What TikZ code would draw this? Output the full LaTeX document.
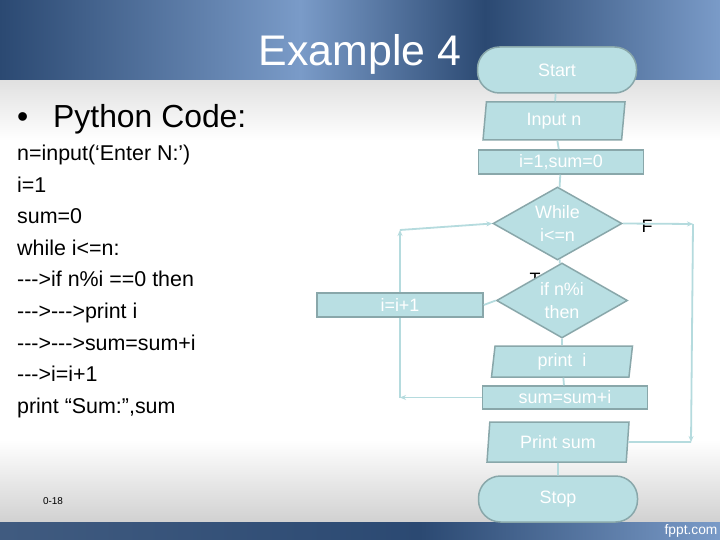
\documentclass[tikz,border=0pt]{standalone}
\usepackage{fontspec}
\setmainfont{Liberation Sans}
\newfontfamily\codefont{Liberation Sans}[Ligatures=TeXOff]
\definecolor{fcFill}{HTML}{B9DFE3}
\definecolor{fcEdge}{HTML}{89A7AA}
\definecolor{fcLine}{HTML}{B5DBDE}
\definecolor{bandDark}{HTML}{2B4972}
\definecolor{bandLight}{HTML}{7A9BC8}
\usetikzlibrary{positioning,arrows.meta,shapes.geometric}

\begin{document}
\begin{tikzpicture}[x=1bp, y=-1bp,
  fcbase/.style={draw=fcEdge, line width=1.5bp, fill=fcFill, text=white,
    font=\fontsize{18}{23}\selectfont, align=center, inner sep=0pt},
  term/.style={fcbase, rectangle, rounded corners=22bp, minimum width=159bp, minimum height=46bp},
  io/.style={fcbase, trapezium, trapezium left angle=78, trapezium right angle=102,
    trapezium stretches body=true, minimum width=142bp, minimum height=38bp},
  proc/.style={fcbase, rectangle, minimum width=165bp, minimum height=24bp},
  cond/.style={fcbase, diamond, aspect=1.77, minimum width=129bp, minimum height=73bp},
  link/.style={color=fcLine, line width=1.8bp},
  arr/.style={link, -{Stealth[length=6bp, width=5bp]}},
  tf/.style={font=\fontsize{18}{20}\selectfont, text=black},
  codeline/.style={anchor=base west, inner sep=0pt, font=\codefont\fontsize{21.5}{26}\selectfont}
]
  \useasboundingbox (0,0) rectangle (720,540);

  % Slide background
  \fill[white] (0,0) rectangle (720,540);
  \shade[top color=black!12, bottom color=white] (0,80) rectangle (720,140);
  \shade[top color=white, bottom color=black!18] (0,440) rectangle (720,522);
  \shade[left color=bandDark, right color=bandLight] (0,0) rectangle (300,80);
  \shade[left color=bandLight, right color=bandDark] (300,0) rectangle (485,80);
  \shade[left color=bandDark, right color=bandLight] (485,0) rectangle (720,80);
  \shade[left color=bandDark!90!white, right color=bandDark] (0,522) rectangle (420,540);
  \shade[left color=bandDark, right color=bandLight] (420,522) rectangle (720,540);

  \node[font=\fontsize{43}{50}\selectfont, text=white, anchor=base] (title) at (360,66) {Example 4};
  \node[anchor=base west, inner sep=0pt, font=\fontsize{32}{38}\selectfont] (heading) at (17,128)
    {\makebox[36bp][l]{•}Python Code:};

  \foreach \txt [count=\k] in {n=input(‘Enter N:’), i=1, sum=0, while i<=n:, {--->if n\%i ==0 then},
      --->--->print i, --->--->sum=sum+i, --->i=i+1, {print “Sum:”,sum}}
    \node[codeline] (code\k) at (17,{161+31.5*(\k-1)}) {\txt};

  % Flowchart
  \node[term] (start) at (557,70) {Start};
  \node[io] (input) at (554,121) {Input n};
  \node[proc] (init) at (561,162) {i=1,sum=0};
  \node[cond] (loop) at (557.5,223.5) {While\\i<=n};
  \node[tf, inner sep=0pt] (tlabel) at (535,279) {T};
  \node[tf] (flabel) at (647,226) {F};
  \node[cond, minimum width=131bp, minimum height=75bp] (test) at (562,300.5) {if n\%i\\then};
  \node[proc, minimum width=166bp] (incr) at (400,305) {i=i+1};
  \node[io, minimum width=141bp, minimum height=31bp] (printi) at (562,361.5) {print\ \ i};
  \node[proc, minimum height=23bp] (sum) at (565,397.5) {sum=sum+i};
  \node[io, minimum height=40bp] (printsum) at (558,442) {Print sum};
  \node[term] (stop) at (558,499) {Stop};

  \draw[link] (start) -- (input);
  \draw[link] (input) -- (init);
  \draw[link] (init) -- (loop);
  \draw[link] (loop) -- (test);
  \draw[link] (test) -- (printi);
  \draw[link] (printi) -- (sum);
  \draw[link] (printsum) -- (stop);
  \draw[link] (test.west) -- (incr.east);

  % back to the loop test
  \coordinate (loopbot) at (400,397.5);
  \coordinate (looptop) at (400,230);
  \draw[arr] (sum.west) -- (loopbot);
  \draw[link] (loopbot) -- (incr.south);
  \draw[arr] (incr.north) -- (looptop);
  \draw[arr] (looptop) -- (loop.west);

  % exit branch
  \coordinate (fcorner) at (693,224);
  \coordinate (fbot) at (691,442);
  \draw[arr] (loop.east) -- (fcorner);
  \draw[arr] (fcorner) -- (fbot);
  \draw[link] (fbot) -- (printsum.east);

  \node[font=\fontsize{10}{12}\selectfont] (slideno) at (53,501) {0-18};
  \node[font=\fontsize{13.8}{16}\selectfont, text=white] (brand) at (691,531) {fppt.com};
\end{tikzpicture}
\end{document}
